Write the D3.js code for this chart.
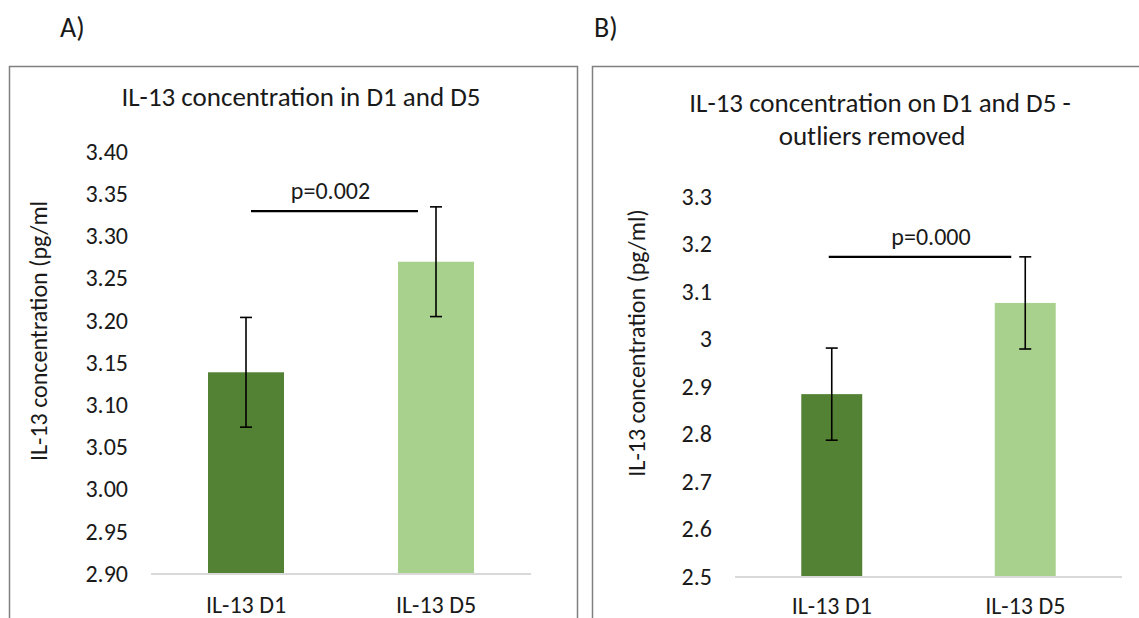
<!DOCTYPE html>
<html>
<head>
<meta charset="utf-8">
<script src="https://cdn.jsdelivr.net/npm/d3@7"></script>
<style>
  body { margin: 0; background: #fff; }
  text { font-family: Carlito, Calibri, Lato, sans-serif; fill: #1a1a1a; }
</style>
</head>
<body>
<div id="chart"></div>
<script>

// Data

var categories = [ "IL-13 D1", "IL-13 D5" ];

var meansA = [ 3.139, 3.270 ];
var errorsA = [ 0.065, 0.065 ];
var ticksA = [ 2.90, 2.95, 3.00, 3.05, 3.10, 3.15, 3.20, 3.25, 3.30, 3.35, 3.40 ];
var tickLabelsA = [ "2.90", "2.95", "3.00", "3.05", "3.10", "3.15", "3.20", "3.25", "3.30", "3.35", "3.40" ];

var meansB = [ 2.885, 3.077 ];
var errorsB = [ 0.097, 0.097 ];
var ticksB = [ 2.5, 2.6, 2.7, 2.8, 2.9, 3.0, 3.1, 3.2, 3.3 ];
var tickLabelsB = [ "2.5", "2.6", "2.7", "2.8", "2.9", "3", "3.1", "3.2", "3.3" ];

var colors = [ "#548235", "#a9d18e" ];

var svg = d3.select( "#chart" ).append( "svg" )
    .attr( "width", 1139 )
    .attr( "height", 618 );

function drawPanel ( p ) {

    var g = svg.append( "g" );

    // Panel letter

    g.append( "text" )
        .attr( "x", p.letterX )
        .attr( "y", 37 )
        .style( "font-size", "28px" )
        .text( p.letter );

    // Frame

    g.append( "rect" )
        .attr( "x", p.boxX )
        .attr( "y", 66.5 )
        .attr( "width", p.boxW )
        .attr( "height", 600 )
        .style( "fill", "none" )
        .style( "stroke", "#808080" )
        .style( "stroke-width", 1.5 );

    // Title

    g.selectAll( ".title" )
        .data( p.title )
        .enter().append( "text" )
        .attr( "x", function ( d ) { return d.x; } )
        .attr( "y", function ( d, i ) { return p.titleY + i * 33; } )
        .attr( "text-anchor", "middle" )
        .style( "font-size", "27px" )
        .text( function ( d ) { return d.text; } );

    var x = d3.scaleBand()
        .domain( categories )
        .range( [ p.left, p.right ] )
        .paddingInner( p.padIn )
        .paddingOuter( p.padIn / 2 );

    var y = d3.scaleLinear()
        .domain( [ p.ticks[ 0 ], p.ticks[ p.ticks.length - 1 ] ] )
        .range( [ p.bottom, p.top ] );

    // Y axis labels (no line)

    var yAxis = d3.axisLeft( y )
        .tickValues( p.ticks )
        .tickFormat( function ( d, i ) { return p.tickLabels[ i ]; } )
        .tickSize( 0 )
        .tickPadding( 0 );

    var ya = g.append( "g" )
        .attr( "transform", "translate(" + p.tickRight + ",0)" )
        .call( yAxis );
    ya.select( ".domain" ).remove();
    ya.selectAll( "text" )
        .style( "font-size", "24px" )
        .style( "font-family", "Carlito, Calibri, Lato, sans-serif" )
        .attr( "dy", "0.3em" );

    // Bars

    g.selectAll( ".bar" )
        .data( p.means )
        .enter().append( "rect" )
        .attr( "x", function ( d, i ) { return x( categories[ i ] ); } )
        .attr( "y", function ( d ) { return y( d ); } )
        .attr( "width", x.bandwidth() )
        .attr( "height", function ( d ) { return p.bottom - y( d ); } )
        .style( "fill", function ( d, i ) { return colors[ i ]; } );

    // Baseline

    g.append( "line" )
        .attr( "x1", p.left )
        .attr( "x2", p.right )
        .attr( "y1", p.bottom )
        .attr( "y2", p.bottom )
        .style( "stroke", "#d9d9d9" )
        .style( "stroke-width", 2 );

    // X axis labels

    var xAxis = d3.axisBottom( x ).tickSize( 0 ).tickPadding( 0 );
    var xa = g.append( "g" )
        .attr( "transform", "translate(0," + p.bottom + ")" )
        .call( xAxis );
    xa.select( ".domain" ).remove();
    xa.selectAll( "text" )
        .style( "font-size", "24px" )
        .style( "font-family", "Carlito, Calibri, Lato, sans-serif" )
        .attr( "dy", null )
        .attr( "y", p.catY );

    // Error bars

    var eb = g.selectAll( ".err" )
        .data( p.means )
        .enter().append( "g" )
        .style( "stroke", "#000" )
        .style( "stroke-width", 1.6 );

    var cx = function ( i ) { return x( categories[ i ] ) + x.bandwidth() / 2; };

    eb.append( "line" )
        .attr( "x1", function ( d, i ) { return cx( i ); } )
        .attr( "x2", function ( d, i ) { return cx( i ); } )
        .attr( "y1", function ( d, i ) { return y( d + p.errors[ i ] ); } )
        .attr( "y2", function ( d, i ) { return y( d - p.errors[ i ] ); } );

    [ 1, -1 ].forEach( function ( s ) {
        eb.append( "line" )
            .attr( "x1", function ( d, i ) { return cx( i ) - 6; } )
            .attr( "x2", function ( d, i ) { return cx( i ) + 6; } )
            .attr( "y1", function ( d, i ) { return y( d + s * p.errors[ i ] ); } )
            .attr( "y2", function ( d, i ) { return y( d + s * p.errors[ i ] ); } );
    });

    // Significance bracket

    var bx1 = cx( 0 ) + p.bracketDx[ 0 ];
    var bx2 = cx( 1 ) + p.bracketDx[ 1 ];

    g.append( "line" )
        .attr( "x1", bx1 )
        .attr( "x2", bx2 )
        .attr( "y1", y( p.bracketY ) )
        .attr( "y2", y( p.bracketY ) )
        .style( "stroke", "#000" )
        .style( "stroke-width", 2.2 );

    g.append( "text" )
        .attr( "x", ( bx1 + bx2 ) / 2 + p.pDx )
        .attr( "y", y( p.bracketY ) - 12 )
        .attr( "text-anchor", "middle" )
        .style( "font-size", "24px" )
        .text( p.pText );

    // Y axis title

    g.append( "text" )
        .attr( "transform", "translate(" + p.yTitleX + "," + p.yTitleY + ") rotate(-90)" )
        .attr( "text-anchor", "middle" )
        .style( "font-size", "24px" )
        .text( p.yTitle );
}

drawPanel({
    letter: "A)", letterX: 60,
    boxX: 9.5, boxW: 568,
    title: [ { text: "IL-13 concentration in D1 and D5", x: 301 } ], titleY: 106,
    left: 151, right: 531, top: 152, bottom: 574, catY: 39,
    padIn: 0.6,
    ticks: ticksA, tickLabels: tickLabelsA, tickRight: 128,
    means: meansA, errors: errorsA,
    bracketY: 3.330, bracketDx: [ 5, -18 ], pDx: -4, pText: "p=0.002",
    yTitle: "IL-13 concentration (pg/ml", yTitleX: 47, yTitleY: 331
});

drawPanel({
    letter: "B)", letterX: 594,
    boxX: 592.5, boxW: 600,
    title: [ { text: "IL-13 concentration on D1 and D5 -", x: 880 },
             { text: "outliers removed", x: 872 } ], titleY: 112,
    left: 735, right: 1122, top: 197, bottom: 577, catY: 37,
    padIn: 0.685,
    ticks: ticksB, tickLabels: tickLabelsB, tickRight: 712,
    means: meansB, errors: errorsB,
    bracketY: 3.174, bracketDx: [ -3, -14 ], pDx: 11, pText: "p=0.000",
    yTitle: "IL-13 concentration (pg/ml)", yTitleX: 645, yTitleY: 343
});

</script>
</body>
</html>
